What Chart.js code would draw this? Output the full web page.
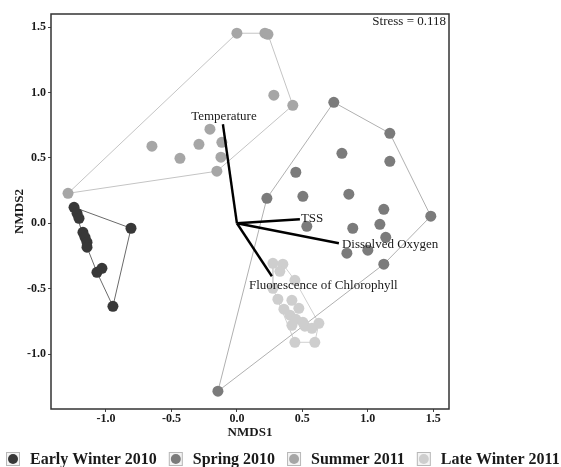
<!DOCTYPE html>
<html>
<head>
<meta charset="utf-8">
<script src="https://cdn.jsdelivr.net/npm/chart.js@4.4.1/dist/chart.umd.min.js"></script>
<style>
html,body{margin:0;padding:0;background:#fff;}
#wrap{width:561px;height:467px;}
</style>
</head>
<body>
<div id="wrap"><canvas id="c" width="561" height="467"></canvas></div>
<script>
// ---- Data ----
const groupNames = ['Early Winter 2010', 'Spring 2010', 'Summer 2011', 'Late Winter 2011'];

const earlyWinterX = [-1.244, -1.221, -1.206, -1.176, -1.160, -1.145, -1.145, -1.069, -1.031, -0.947, -0.809];
const earlyWinterY = [0.122, 0.076, 0.038, -0.069, -0.107, -0.145, -0.183, -0.375, -0.344, -0.635, -0.038];

const springX = [0.740, 1.168, 0.802, 1.168, 0.450, 0.229, 0.504, 0.855, 1.122, 1.481, 0.534, 0.885, 1.092, 1.137, 0.840, 1.000, 1.122, -0.145];
const springY = [0.925, 0.688, 0.535, 0.474, 0.390, 0.191, 0.206, 0.222, 0.107, 0.054, -0.023, -0.038, -0.008, -0.107, -0.229, -0.206, -0.313, -1.284];

const summerX = [0.000, 0.214, 0.237, 0.282, 0.427, -0.206, -0.649, -0.290, -0.115, -0.435, -0.122, -0.153, -1.290];
const summerY = [1.453, 1.453, 1.445, 0.979, 0.902, 0.719, 0.589, 0.604, 0.619, 0.497, 0.505, 0.398, 0.229];

const lateWinterX = [0.275, 0.351, 0.328, 0.443, 0.275, 0.313, 0.420, 0.359, 0.473, 0.405, 0.450, 0.504, 0.420, 0.519, 0.573, 0.626, 0.443, 0.595];
const lateWinterY = [-0.306, -0.313, -0.367, -0.436, -0.497, -0.581, -0.589, -0.657, -0.650, -0.703, -0.734, -0.757, -0.780, -0.787, -0.803, -0.765, -0.910, -0.910];

const vectorNames = ['Temperature', 'TSS', 'Dissolved Oxygen', 'Fluorescence of Chlorophyll'];
const vectorX = [-0.107, 0.481, 0.779, 0.267];
const vectorY = [0.757, 0.031, -0.153, -0.405];
const vectorLabelX = [-0.099, 0.489, 0.802, 0.660];
const vectorLabelY = [0.818, 0.036, -0.161, -0.474];
const vectorLabelAlign = ['center', 'left', 'left', 'center'];

const xTicks = [-1.0, -0.5, 0.0, 0.5, 1.0, 1.5];
const yTicks = [-1.0, -0.5, 0.0, 0.5, 1.0, 1.5];
const stressText = 'Stress = 0.118';

// ---- Styles ----
const pointColors = ['#383838', '#7b7b7b', '#a6a6a6', '#cecece'];
const hullColors = ['#6a6a6a', '#b0b0b0', '#c4c4c4', '#d0d0d0'];
const SERIF = '"Liberation Serif", "Times New Roman", serif';

function toPts(xs, ys) { return xs.map((x, i) => ({x: x, y: ys[i]})); }

function convexHull(pts) {
  const p = pts.slice().sort((a, b) => a.x - b.x || a.y - b.y);
  const cross = (o, a, b) => (a.x - o.x) * (b.y - o.y) - (a.y - o.y) * (b.x - o.x);
  const lower = [], upper = [];
  for (const q of p) { while (lower.length >= 2 && cross(lower[lower.length-2], lower[lower.length-1], q) <= 0) lower.pop(); lower.push(q); }
  for (let i = p.length - 1; i >= 0; i--) { const q = p[i]; while (upper.length >= 2 && cross(upper[upper.length-2], upper[upper.length-1], q) <= 0) upper.pop(); upper.push(q); }
  upper.pop(); lower.pop();
  const h = lower.concat(upper);
  h.push(h[0]);
  return h;
}

const groups = [
  toPts(earlyWinterX, earlyWinterY),
  toPts(springX, springY),
  toPts(summerX, summerY),
  toPts(lateWinterX, lateWinterY)
];

const datasets = [];
// vectors (top)
vectorX.forEach((vx, i) => {
  datasets.push({
    label: vectorNames[i], data: [{x: 0, y: 0}, {x: vx, y: vectorY[i]}],
    showLine: true, borderColor: '#000', borderWidth: 2.4, pointRadius: 0,
    order: 0
  });
});
// points
groups.forEach((g, i) => {
  datasets.push({
    label: groupNames[i], data: g, showLine: false,
    pointRadius: 5.5, pointBackgroundColor: pointColors[i], pointBorderWidth: 0,
    backgroundColor: pointColors[i], borderColor: pointColors[i],
    order: 1
  });
});
// hulls
groups.forEach((g, i) => {
  datasets.push({
    label: groupNames[i] + ' hull', data: convexHull(g), showLine: true,
    borderColor: hullColors[i], borderWidth: 1, pointRadius: 0, tension: 0,
    order: 2
  });
});

const overlay = {
  id: 'overlay',
  afterDatasetsDraw(chart) {
    const ctx = chart.ctx, xs = chart.scales.x, ys = chart.scales.y, a = chart.chartArea;
    ctx.save();
    ctx.fillStyle = '#1a1a1a';
    ctx.font = '13px ' + SERIF;
    ctx.textBaseline = 'middle';
    vectorNames.forEach((n, i) => {
      ctx.textAlign = vectorLabelAlign[i];
      ctx.fillText(n, xs.getPixelForValue(vectorLabelX[i]), ys.getPixelForValue(vectorLabelY[i]));
    });
    ctx.textAlign = 'right';
    ctx.fillText(stressText, a.right - 3, a.top + 8);
    // panel border
    ctx.strokeStyle = '#333';
    ctx.lineWidth = 1.5;
    ctx.strokeRect(a.left, a.top, a.right - a.left, a.bottom - a.top);
    ctx.restore();
  },
  afterDraw(chart) {
    const ctx = chart.ctx;
    ctx.save();
    ctx.font = 'bold 16px ' + SERIF;
    ctx.textBaseline = 'middle';
    ctx.textAlign = 'left';
    let x = 6; const cy = 459;
    groupNames.forEach((n, i) => {
      ctx.fillStyle = '#f4f4f4';
      ctx.fillRect(x, cy - 7, 14, 14);
      ctx.strokeStyle = '#b8b8b8';
      ctx.lineWidth = 1;
      ctx.strokeRect(x + 0.5, cy - 6.5, 13, 13);
      ctx.beginPath();
      ctx.arc(x + 7, cy, 5, 0, Math.PI * 2);
      ctx.fillStyle = pointColors[i];
      ctx.fill();
      x += 14 + 10;
      ctx.fillStyle = '#1a1a1a';
      ctx.fillText(n, x, cy + 1);
      x += ctx.measureText(n).width + 12;
    });
    ctx.restore();
  }
};

const tickFont = {family: SERIF, size: 12, weight: 'bold'};
const titleFont = {family: SERIF, size: 13, weight: 'bold'};

new Chart(document.getElementById('c'), {
  type: 'scatter',
  data: {datasets: datasets},
  options: {
    responsive: false,
    animation: false,
    devicePixelRatio: 1,
    layout: {padding: {left: 12, top: 14, right: 112, bottom: 27}},
    plugins: {legend: {display: false}, tooltip: {enabled: false}},
    scales: {
      x: {
        type: 'linear', min: -1.42, max: 1.62,
        afterBuildTicks: s => { s.ticks = xTicks.map(v => ({value: v})); },
        afterFit: s => { s.height = 31; },
        ticks: {font: tickFont, color: '#1a1a1a', padding: 0, callback: v => v.toFixed(1), maxRotation: 0},
        grid: {drawOnChartArea: false, drawTicks: true, tickLength: 3, color: '#444'},
        border: {display: false},
        title: {display: true, text: 'NMDS1', font: titleFont, color: '#1a1a1a', padding: 0}
      },
      y: {
        type: 'linear', min: -1.42, max: 1.6,
        afterBuildTicks: s => { s.ticks = yTicks.map(v => ({value: v})); },
        afterFit: s => { s.width = 39; },
        ticks: {font: tickFont, color: '#1a1a1a', padding: 2, callback: v => v.toFixed(1)},
        grid: {drawOnChartArea: false, drawTicks: true, tickLength: 3, color: '#444'},
        border: {display: false},
        title: {display: true, text: 'NMDS2', font: titleFont, color: '#1a1a1a', padding: 0}
      }
    }
  },
  plugins: [overlay]
});
</script>
</body>
</html>
